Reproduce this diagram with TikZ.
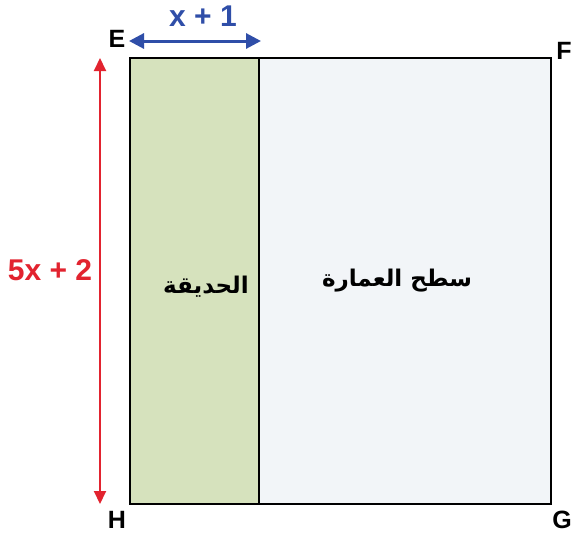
\documentclass[tikz,border=0pt]{standalone}
\usepackage{fontspec}
\setmainfont{Liberation Sans}
\newfontfamily\arabicfont[Script=Arabic]{DejaVu Sans}
\TeXXeTstate=1
\usetikzlibrary{arrows.meta}
\definecolor{garden}{HTML}{D6E2BD}
\definecolor{roof}{HTML}{F2F5F8}
\definecolor{dimblue}{HTML}{2F4EA8}
\definecolor{dimred}{HTML}{E2232F}
\tikzset{
  corner/.style={font=\fontsize{25}{27}\selectfont\bfseries, text=black, inner sep=0pt},
  dimlabel/.style={font=\fontsize{30}{32}\selectfont\bfseries, inner sep=0pt},
  arlabel/.style={font=\arabicfont\fontsize{23}{26}\selectfont\bfseries, inner sep=0pt},
  bluearrow/.style={line width=3pt, {Triangle[length=15pt,width=15pt]}-{Triangle[length=15pt,width=15pt]}},
  redarrow/.style={line width=2pt, {Triangle[length=13pt,width=12pt]}-{Triangle[length=13pt,width=12pt]}},
}
\begin{document}
\begin{tikzpicture}[x=1pt,y=-1pt]
\useasboundingbox (0,0) rectangle (573,533);
\fill[white] (0,0) rectangle (573,533);
\coordinate (sm) at (259,58);
\coordinate (bm) at (259,504);
\fill[roof] (259,58) rectangle (551,504);
\fill[garden] (130,58) rectangle (259,504);
\draw[line width=1.8pt] (130,58) rectangle (551,504);
\draw[line width=1.8pt] (sm) -- (bm);
\node[corner] (E) at (117,39) {E};
\node[corner] (F) at (564,51) {F};
\node[corner] (H) at (117,520) {H};
\node[corner] (G) at (562,520) {G};
\coordinate (a1) at (129,41);
\coordinate (a2) at (261,41);
\draw[bluearrow, dimblue] (a1) -- (a2);
\node[dimlabel, text=dimblue] (xl) at (203,16) {x + 1};
\coordinate (b1) at (100,58);
\coordinate (b2) at (100,504);
\draw[redarrow, dimred] (b1) -- (b2);
\node[dimlabel, text=dimred] (yl) at (50,270) {5x + 2};
\node[arlabel] (g) at (206,287) {\beginR الحديقة\endR};
\node[arlabel] (r) at (397,281) {\beginR سطح العمارة\endR};
\end{tikzpicture}
\end{document}
